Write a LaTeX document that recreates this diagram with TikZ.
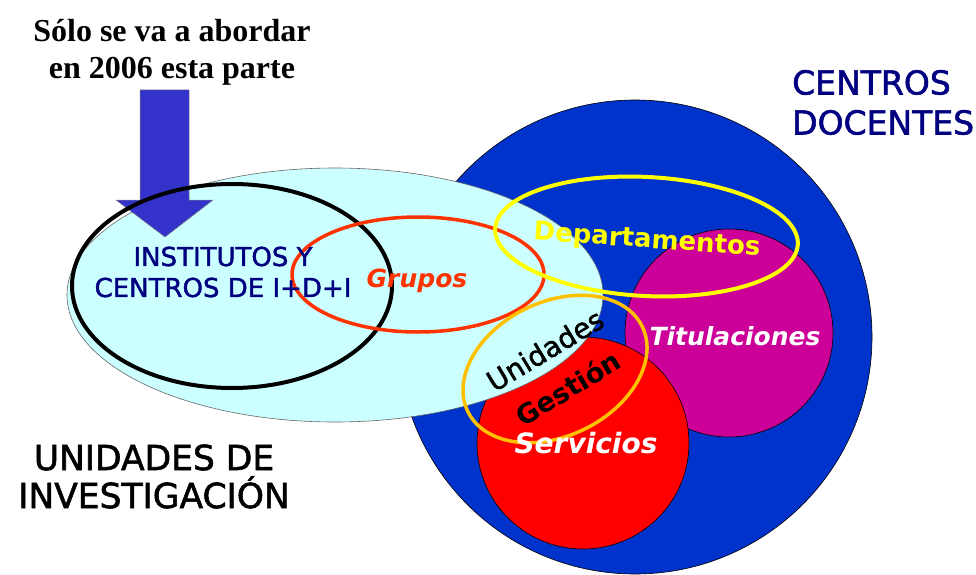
\documentclass[tikz,border=0pt]{standalone}
\usepackage{fontspec}
\setmainfont{DejaVu Sans}
\newfontfamily\timesfont{Liberation Serif}
\newfontfamily\heavyfont{DejaVu Sans}[FakeBold=1.6]
\usepackage{tikz}
\usetikzlibrary{shapes.geometric, positioning}

\definecolor{centroblue}{HTML}{0033CC}
\definecolor{titmagenta}{HTML}{CC0099}
\definecolor{servred}{HTML}{FF0000}
\definecolor{invcyan}{HTML}{CCFFFF}
\definecolor{arrowblue}{HTML}{3333CC}
\definecolor{grupored}{HTML}{FF3300}
\definecolor{depyellow}{HTML}{FFFF00}
\definecolor{gestorange}{HTML}{FFC000}
\definecolor{navy}{HTML}{000080}

\tikzstyle{region} = [circle, draw=black, line width=0.6pt, inner sep=0pt]
\tikzstyle{ring} = [ellipse, inner sep=0pt, line width=4pt]
\tikzstyle{comic} = [inner sep=0pt, font=\heavyfont\fontsize{26}{31}\selectfont]

\begin{document}
\begin{tikzpicture}[x=1pt, y=1pt]
        \useasboundingbox (0,0) rectangle (976,574);

        \node[region, fill=centroblue, minimum size=474pt] (centros) at (635,237) {};
        \node[region, fill=titmagenta, minimum size=208pt] (titulaciones) at (729,241) {};
        \node[region, fill=servred, minimum size=212pt] (servicios) at (583,131) {};
        \node[ellipse, draw=black!60, line width=0.6pt, fill=invcyan, inner sep=0pt, minimum width=536pt, minimum height=254pt] (investigacion) at (335,279) {};

        \filldraw[fill=arrowblue, draw=black!50, line width=0.5pt] (140,484) -- (189,484) -- (189,374) -- (213,374) -- (165,337) -- (116,374) -- (140,374) -- cycle;

        \node[ring, draw=black, minimum width=320pt, minimum height=204pt] (institutos) at (232,288) {};
        \node[ring, draw=grupored, line width=3.5pt, minimum width=252pt, minimum height=115pt] (grupos) at (418,299.5) {};
        \node[ring, draw=gestorange, line width=3.5pt, minimum width=194pt, minimum height=134pt, rotate=26] (gestion) at (555,205) {};
        \node[ring, draw=depyellow, minimum width=303pt, minimum height=119pt, rotate=-3] (departamentos) at (646.5,337.5) {};

        \node[align=center, inner sep=0pt, font=\timesfont\bfseries\fontsize{32}{37}\selectfont] (aviso) at (172,522) {Sólo se va a abordar\\en 2006 esta parte};
        \node[comic, align=center, text=navy] (institutosText) at (223,302) {INSTITUTOS Y\\CENTROS DE I+D+I};
        \node[comic, anchor=base, text=grupored, font=\normalfont\bfseries\itshape\fontsize{25}{30}\selectfont] (gruposText) at (417,287) {Grupos};
        \node[comic, text=depyellow, font=\normalfont\bfseries\fontsize{26}{30}\selectfont, rotate=-4] (departamentosText) at (647,333) {Departamentos};
        \node[comic, anchor=base, text=white, font=\normalfont\bfseries\itshape\fontsize{25}{30}\selectfont] (titulacionesText) at (735,229) {Titulaciones};
        \node[comic, anchor=base, text=white, font=\normalfont\bfseries\itshape\fontsize{28}{30}\selectfont] (serviciosText) at (586,121) {Servicios};
        \node[comic, font=\heavyfont\fontsize{28}{30}\selectfont, rotate=31] (unidadesText) at (545,224) {Unidades};
        \node[comic, font=\normalfont\bfseries\fontsize{27}{30}\selectfont, rotate=31] (gestionText) at (568,186) {Gestión};
        \node[comic, anchor=west, align=left, text=navy, font=\heavyfont\fontsize{33}{40}\selectfont] (centrosText) at (792,471.5) {CENTROS\\DOCENTES};
        \node[comic, align=center, font=\heavyfont\fontsize{34.5}{38}\selectfont] (investigacionText) at (154,97.5) {UNIDADES DE\\INVESTIGACIÓN};

    \end{tikzpicture}
\end{document}
